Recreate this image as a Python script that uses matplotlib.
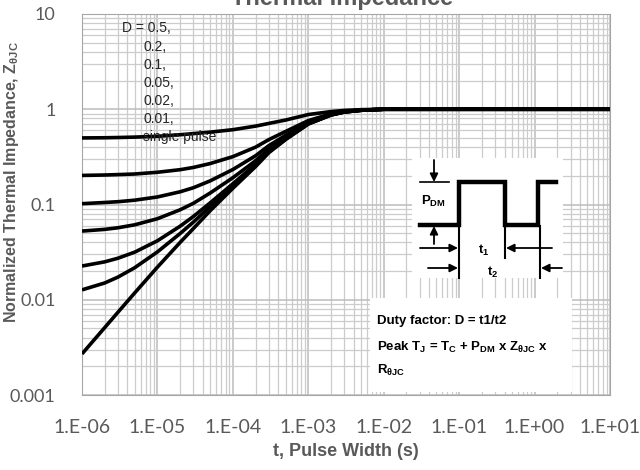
import matplotlib
matplotlib.use("Agg")
import matplotlib.pyplot as plt
from matplotlib.ticker import LogLocator, NullFormatter
from matplotlib.patches import Rectangle

plt.rcParams['font.family'] = ['Liberation Sans', 'DejaVu Sans']
plt.rcParams['mathtext.default'] = 'regular'

# pulse width (s)
t = [1e-6, 2e-6, 3e-6, 5e-6, 1e-5, 2e-5, 3e-5, 5e-5, 1e-4, 2e-4, 3e-4, 5e-4,
     1e-3, 2e-3, 3e-3, 5e-3, 1e-2, 1e-1, 1, 10]

# normalized thermal impedance
z_d05 = [0.50, 0.502, 0.505, 0.51, 0.52, 0.54, 0.555, 0.575, 0.61, 0.665, 0.71, 0.77,
         0.88, 0.945, 0.972, 0.99, 1.0, 1.0, 1.0, 1.0]
z_d02 = [0.202, 0.204, 0.206, 0.209, 0.218, 0.232, 0.245, 0.269, 0.318, 0.40, 0.48, 0.584,
         0.76, 0.896, 0.948, 0.98, 1.0, 1.0, 1.0, 1.0]
z_d01 = [0.102, 0.105, 0.107, 0.111, 0.12, 0.136, 0.150, 0.177, 0.233, 0.325, 0.415, 0.532,
         0.73, 0.883, 0.942, 0.978, 1.0, 1.0, 1.0, 1.0]
z_d005 = [0.0526, 0.0548, 0.057, 0.0612, 0.0709, 0.088, 0.103, 0.132, 0.191, 0.288, 0.383, 0.506,
          0.715, 0.877, 0.938, 0.976, 1.0, 1.0, 1.0, 1.0]
z_d002 = [0.0226, 0.025, 0.0273, 0.0316, 0.0416, 0.0592, 0.0749, 0.104, 0.165, 0.265, 0.363, 0.49,
          0.706, 0.873, 0.936, 0.976, 1.0, 1.0, 1.0, 1.0]
z_d001 = [0.0127, 0.015, 0.0173, 0.0217, 0.0318, 0.0496, 0.0654, 0.0951, 0.157, 0.258, 0.357, 0.485,
          0.703, 0.871, 0.936, 0.975, 1.0, 1.0, 1.0, 1.0]
z_single = [0.0027, 0.0051, 0.0074, 0.0118, 0.022, 0.040, 0.056, 0.086, 0.148, 0.25, 0.35, 0.48,
            0.70, 0.87, 0.935, 0.975, 1.0, 1.0, 1.0, 1.0]

curves = [z_d05, z_d02, z_d01, z_d005, z_d002, z_d001, z_single]
legend_lines = ['D = 0.5,', '0.2,', '0.1,', '0.05,', '0.02,', '0.01,', 'single pulse']

x_ticks = [1e-6, 1e-5, 1e-4, 1e-3, 1e-2, 1e-1, 1, 10]
x_labels = ['1.E-06', '1.E-05', '1.E-04', '1.E-03', '1.E-02', '1.E-01', '1.E+00', '1.E+01']
y_ticks = [0.001, 0.01, 0.1, 1, 10]
y_labels = ['0.001', '0.01', '0.1', '1', '10']

W, H = 640, 470
fig = plt.figure(figsize=(6.4, 4.7), dpi=100)
ax = fig.add_axes([82 / W, 1 - 395 / H, (610 - 82) / W, (395 - 14) / H])

for z in curves:
    ax.plot(t, z, color='black', lw=2.6, solid_capstyle='butt', zorder=3)

ax.set_xscale('log')
ax.set_yscale('log')
ax.set_xlim(1e-6, 10)
ax.set_ylim(0.001, 10)
ax.set_xticks(x_ticks)
ax.set_xticklabels(x_labels)
ax.set_yticks(y_ticks)
ax.set_yticklabels(y_labels)
ax.xaxis.set_minor_locator(LogLocator(base=10, subs=range(2, 10), numticks=20))
ax.yaxis.set_minor_locator(LogLocator(base=10, subs=range(2, 10), numticks=20))
ax.xaxis.set_minor_formatter(NullFormatter())
ax.yaxis.set_minor_formatter(NullFormatter())
ax.tick_params(which='both', length=0)
ax.tick_params(axis='x', pad=17, labelsize=14, labelcolor='#595959')
ax.tick_params(axis='y', pad=19, labelsize=13, labelcolor='#595959')
for lab in ax.get_xticklabels() + ax.get_yticklabels():
    lab.set_family(['Lato', 'DejaVu Sans'])
ax.grid(which='major', color='#bcbcbc', lw=1.1)
ax.grid(which='minor', color='#cccccc', lw=0.9)
ax.set_axisbelow(True)
for s in ax.spines.values():
    s.set_color('#a6a6a6')

# overlay in pixel coordinates for the annotations
ov = fig.add_axes([0, 0, 1, 1], zorder=5)
ov.set_xlim(0, W)
ov.set_ylim(H, 0)
ov.axis('off')
ov.patch.set_alpha(0)

ov.text(342, 5, 'Thermal Impedance', ha='center', va='baseline', fontsize=17,
        fontweight='bold', color='#595959')
ov.text(346, 452, 't, Pulse Width (s)', ha='center', va='center', fontsize=13,
        fontweight='bold', color='#595959')
ov.text(12, 182, 'Normalized Thermal Impedance, Z$_{θJC}$', ha='center', va='center',
        rotation=90, fontsize=11.5, fontweight='bold', color='#595959')

# duty cycle legend
ov.text(122, 28, legend_lines[0], ha='left', va='center', fontsize=10, color='#262626')
for i, s in enumerate(legend_lines[1:]):
    ov.text(143, 47 + i * 18, s, ha='left', va='center', fontsize=10, color='#262626')

# pulse diagram
ov.add_patch(Rectangle((412, 158), 151, 120, facecolor='white', edgecolor='none'))
ov.plot([420, 459, 459, 505, 505, 538, 538, 556], [225, 225, 182, 182, 225, 225, 182, 182],
        color='black', lw=3.2, solid_joinstyle='miter')
ov.plot([420, 449], [182, 182], color='black', lw=1.2)
ov.plot([459, 459], [225, 278], color='black', lw=1.5)
ov.plot([505, 505], [225, 258], color='black', lw=1.5)
ov.plot([540, 540], [226, 278], color='black', lw=1.5)
arr = dict(arrowstyle='-|>', color='black', lw=1.3, mutation_scale=12, shrinkA=0, shrinkB=0)
ov.annotate('', xy=(434, 182), xytext=(434, 160), arrowprops=arr)
ov.annotate('', xy=(434, 226), xytext=(434, 244), arrowprops=arr)
ov.annotate('', xy=(458, 248), xytext=(420, 248), arrowprops=arr)
ov.annotate('', xy=(506, 248), xytext=(552, 248), arrowprops=arr)
ov.annotate('', xy=(458, 268), xytext=(428, 268), arrowprops=arr)
ov.annotate('', xy=(541, 268), xytext=(562, 268), arrowprops=arr)
ov.text(421, 201, 'P$_{DM}$', ha='left', va='center', fontsize=9.5, fontweight='bold')
ov.text(478, 250, 't$_1$', ha='left', va='center', fontsize=9.5, fontweight='bold')
ov.text(487, 272, 't$_2$', ha='left', va='center', fontsize=9.5, fontweight='bold')

# formula box
ov.add_patch(Rectangle((370, 298), 202, 94, facecolor='white', edgecolor='none'))
ov.text(377, 321, 'Duty factor: D = t1/t2', ha='left', va='center', fontsize=9.5, fontweight='bold')
ov.text(377, 347, 'Peak T$_J$ = T$_C$ + P$_{DM}$ x Z$_{θJC}$ x', ha='left', va='center',
        fontsize=9.5, fontweight='bold')
ov.text(377, 370, 'R$_{θJC}$', ha='left', va='center', fontsize=9.5, fontweight='bold')

fig.savefig('out.png', dpi=100)
